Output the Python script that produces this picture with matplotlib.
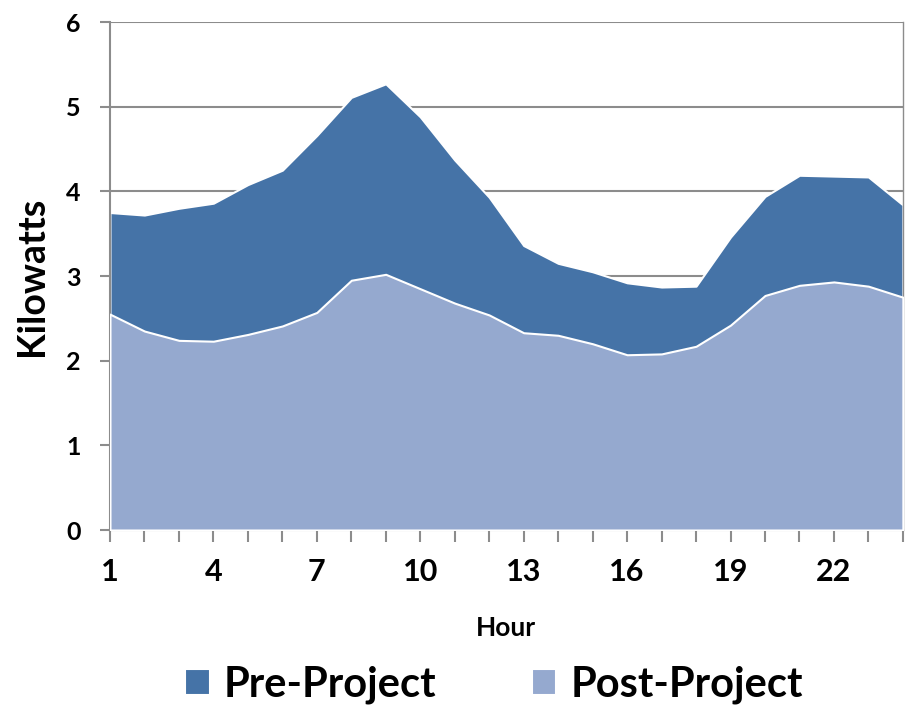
import matplotlib.pyplot as plt
import numpy as np

# hourly load profile
hours = np.arange(1, 25)
pre_project = [3.75, 3.72, 3.80, 3.86, 4.08, 4.25, 4.66, 5.11, 5.27, 4.88, 4.37, 3.93,
               3.36, 3.15, 3.05, 2.92, 2.87, 2.88, 3.46, 3.94, 4.19, 4.18, 4.17, 3.84]
post_project = [2.55, 2.35, 2.24, 2.23, 2.31, 2.41, 2.57, 2.95, 3.02, 2.85, 2.68, 2.54,
                2.33, 2.30, 2.20, 2.07, 2.08, 2.17, 2.42, 2.77, 2.89, 2.93, 2.88, 2.75]
series_names = ['Pre-Project', 'Post-Project']
x_ticks = [1, 4, 7, 10, 13, 16, 19, 22]

plt.rcParams['font.family'] = ['Lato', 'DejaVu Sans']
plt.rcParams['font.weight'] = 'bold'

fig = plt.figure(figsize=(9.12, 7.1), dpi=100)
ax = fig.add_axes([0.1206, 0.2535, 0.8694, 0.7155])

dark = '#4573A7'
light = '#95A9CF'
ax.fill_between(hours, pre_project, color=dark, edgecolor='white', linewidth=1.5,
                label=series_names[0], zorder=2)
ax.fill_between(hours, post_project, color=light, edgecolor='white', linewidth=1.5,
                label=series_names[1], zorder=3)

ax.set_xlim(1, 24)
ax.set_ylim(0, 6)
ax.set_yticks(range(0, 7))
ax.set_xticks(hours, minor=True)
ax.set_xticks(x_ticks)
ax.grid(axis='y', color='#8c8c8c', linewidth=1.5, zorder=0)
ax.set_axisbelow(True)

ax.spines['top'].set_visible(False)
for s in ['left', 'bottom', 'right']:
    ax.spines[s].set_color('#8c8c8c')
    ax.spines[s].set_linewidth(1.5)
ax.spines['right'].set_linewidth(1.0)

ax.tick_params(axis='y', length=7, width=1.5, color='#8c8c8c', labelsize=18, pad=14)
ax.tick_params(axis='x', which='both', length=8.5, width=1.5, color='#8c8c8c')
ax.tick_params(axis='x', which='major', labelsize=22, pad=12)

ax.set_ylabel('Kilowatts', fontsize=27, fontweight='bold', va='center')
ax.yaxis.set_label_coords(-0.098, 0.5)
ax.set_xlabel('Hour', fontsize=19, fontweight='bold', va='center')
ax.xaxis.set_label_coords(0.5, -0.193)

fig.legend(loc='center', bbox_to_anchor=(0.542, 0.035), ncol=2, frameon=False,
           fontsize=30, handlelength=0.58, handleheight=0.6, columnspacing=2.3,
           handletextpad=0.34, borderpad=0, borderaxespad=0)

fig.savefig('out.png', dpi=100)
